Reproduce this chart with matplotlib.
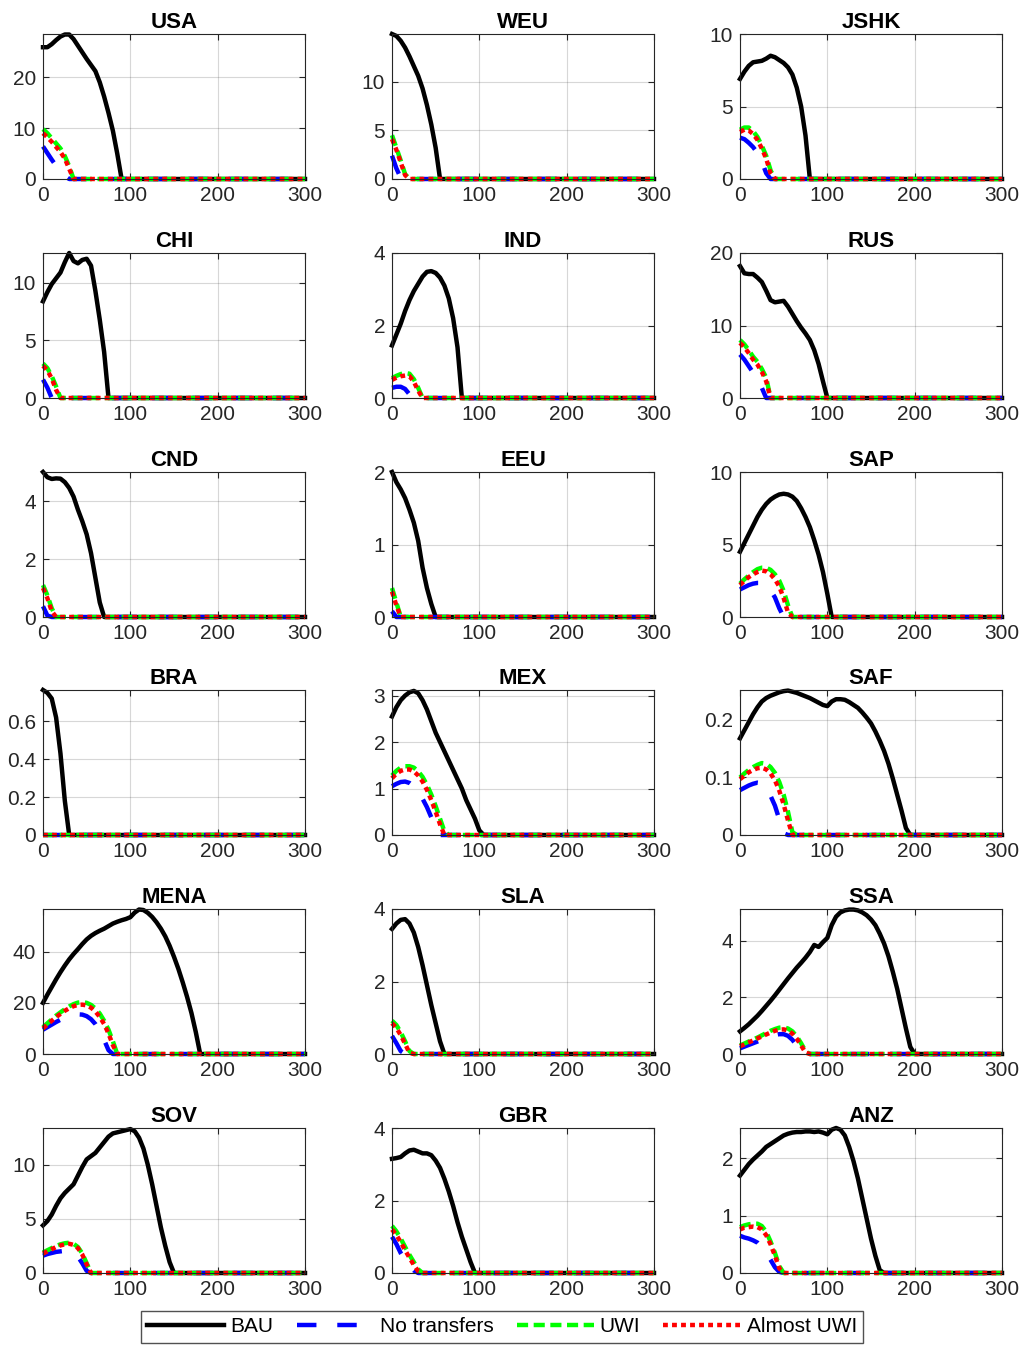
import numpy as np
import matplotlib
matplotlib.use("Agg")
import matplotlib.pyplot as plt
from matplotlib.lines import Line2D

plt.rcParams['font.family'] = ['Liberation Sans', 'DejaVu Sans']
plt.rcParams['lines.scale_dashes'] = False

# years on a 5-year grid; every series listed until it reaches zero, then zero to 300
t = np.arange(0, 301, 5)

regions = ["USA", "WEU", "JSHK", "CHI", "IND", "RUS", "CND", "EEU", "SAP",
           "BRA", "MEX", "SAF", "MENA", "SLA", "SSA", "SOV", "GBR", "ANZ"]

ytop = {"USA": 28.5, "WEU": 14.9, "JSHK": 10, "CHI": 12.6, "IND": 4, "RUS": 20,
        "CND": 5.0, "EEU": 2, "SAP": 10, "BRA": 0.765, "MEX": 3.12, "SAF": 0.252,
        "MENA": 56.7, "SLA": 4.0, "SSA": 5.12, "SOV": 13.4, "GBR": 4.0, "ANZ": 2.53}

yticks = {"USA": [0, 10, 20], "WEU": [0, 5, 10], "JSHK": [0, 5, 10],
          "CHI": [0, 5, 10], "IND": [0, 2, 4], "RUS": [0, 10, 20],
          "CND": [0, 2, 4], "EEU": [0, 1, 2], "SAP": [0, 5, 10],
          "BRA": [0, 0.2, 0.4, 0.6], "MEX": [0, 1, 2, 3], "SAF": [0, 0.1, 0.2],
          "MENA": [0, 20, 40], "SLA": [0, 2, 4], "SSA": [0, 2, 4],
          "SOV": [0, 5, 10], "GBR": [0, 2, 4], "ANZ": [0, 1, 2]}

bau = {
    "USA": [25.9, 25.9, 26.5, 27.3, 28.0, 28.4, 28.4, 27.5, 26.2, 24.9, 23.6, 22.4,
            21.2, 19.0, 16.2, 13.0, 9.5, 5.0, 0],
    "WEU": [14.9, 14.7, 14.2, 13.5, 12.6, 11.6, 10.6, 9.3, 7.6, 5.6, 3.2, 0],
    "JSHK": [6.9, 7.4, 7.8, 8.05, 8.1, 8.15, 8.3, 8.5, 8.4, 8.2, 8.0, 7.7, 7.2,
             6.3, 5.0, 3.0, 0],
    "CHI": [8.4, 9.2, 9.9, 10.4, 10.9, 11.8, 12.6, 11.9, 11.7, 12.0, 12.1, 11.5,
            9.3, 6.8, 4.0, 0],
    "IND": [1.45, 1.75, 2.05, 2.4, 2.7, 2.95, 3.15, 3.35, 3.48, 3.5, 3.45, 3.32,
            3.1, 2.75, 2.2, 1.4, 0],
    "RUS": [18.2, 17.2, 17.1, 17.1, 16.6, 16.0, 14.8, 13.5, 13.2, 13.3, 13.4, 12.6,
            11.6, 10.6, 9.7, 8.9, 8.0, 6.6, 4.7, 2.3, 0],
    "CND": [5.0, 4.82, 4.76, 4.78, 4.77, 4.65, 4.45, 4.15, 3.7, 3.3, 2.85, 2.2,
            1.35, 0.5, 0],
    "EEU": [2.0, 1.86, 1.76, 1.64, 1.48, 1.3, 1.05, 0.68, 0.4, 0.18, 0],
    "SAP": [4.5, 5.1, 5.7, 6.3, 6.9, 7.4, 7.8, 8.1, 8.3, 8.45, 8.5, 8.45, 8.3,
            8.0, 7.5, 6.9, 6.2, 5.3, 4.3, 3.1, 1.6, 0],
    "BRA": [0.765, 0.75, 0.72, 0.62, 0.43, 0.18, 0],
    "MEX": [2.55, 2.75, 2.9, 3.0, 3.07, 3.1, 3.05, 2.9, 2.7, 2.45, 2.2, 2.0, 1.8,
            1.6, 1.4, 1.2, 1.0, 0.75, 0.55, 0.35, 0.1, 0],
    "SAF": [0.168, 0.182, 0.196, 0.21, 0.222, 0.232, 0.238, 0.242, 0.245, 0.248,
            0.25, 0.251, 0.249, 0.247, 0.244, 0.241, 0.238, 0.234, 0.23, 0.226,
            0.224, 0.232, 0.236, 0.236, 0.235, 0.231, 0.226, 0.221, 0.213, 0.204,
            0.194, 0.18, 0.164, 0.146, 0.124, 0.098, 0.07, 0.042, 0.012, 0],
    "MENA": [20, 23.2, 26.2, 29.2, 32, 34.6, 37, 39.1, 41, 43, 44.8, 46.2, 47.3,
             48.2, 49, 50, 51, 51.7, 52.3, 52.8, 53.5, 55.3, 56.5, 56.3, 55.2,
             53.6, 51.5, 49, 46, 42.3, 38, 33.3, 28, 22.3, 16, 8.5, 0],
    "SLA": [3.45, 3.6, 3.7, 3.72, 3.6, 3.35, 2.95, 2.45, 1.9, 1.35, 0.85, 0.35, 0],
    "SSA": [0.8, 0.92, 1.05, 1.2, 1.35, 1.52, 1.7, 1.88, 2.07, 2.27, 2.47, 2.67,
            2.86, 3.05, 3.22, 3.4, 3.6, 3.85, 3.78, 3.95, 4.1, 4.55, 4.85, 5.0,
            5.07, 5.1, 5.1, 5.07, 5.0, 4.9, 4.75, 4.55, 4.25, 3.9, 3.45, 2.9, 2.3,
            1.6, 0.9, 0.25, 0],
    "SOV": [4.4, 4.8, 5.4, 6.2, 6.9, 7.4, 7.8, 8.2, 9.0, 9.8, 10.5, 10.8, 11.1,
            11.6, 12.1, 12.6, 12.9, 13.0, 13.1, 13.2, 13.3, 13.1, 12.5, 11.5, 10.0,
            8.2, 6.2, 4.2, 2.5, 1.0, 0],
    "GBR": [3.15, 3.17, 3.2, 3.3, 3.38, 3.4, 3.35, 3.3, 3.3, 3.25, 3.1, 2.9, 2.6,
            2.25, 1.85, 1.4, 1.0, 0.65, 0.3, 0],
    "ANZ": [1.7, 1.8, 1.9, 1.98, 2.05, 2.12, 2.2, 2.25, 2.3, 2.35, 2.4, 2.43, 2.45,
            2.46, 2.46, 2.47, 2.47, 2.46, 2.47, 2.45, 2.42, 2.5, 2.53, 2.5, 2.4,
            2.2, 1.95, 1.65, 1.3, 0.95, 0.6, 0.3, 0.05, 0],
}

no_transfers = {
    "USA": [6.4, 5.1, 3.8, 2.6, 1.5, 0.6, 0],
    "WEU": [2.4, 1.1, 0.1, 0],
    "JSHK": [2.85, 2.75, 2.5, 2.2, 1.8, 1.2, 0.4, 0],
    "CHI": [1.6, 0.9, 0],
    "IND": [0.28, 0.31, 0.31, 0.25, 0.1, 0],
    "RUS": [6.0, 5.3, 4.4, 3.5, 2.5, 1.4, 0],
    "CND": [0.37, 0.05, 0],
    "EEU": [0.08, 0],
    "SAP": [1.9, 2.05, 2.2, 2.3, 2.35, 2.35, 2.2, 1.85, 1.35, 0.6, 0],
    "BRA": [0],
    "MEX": [1.05, 1.1, 1.14, 1.15, 1.12, 1.05, 0.93, 0.78, 0.6, 0.38, 0.12, 0],
    "SAF": [0.078, 0.082, 0.086, 0.089, 0.091, 0.09, 0.083, 0.068, 0.051, 0.027,
            0.003, 0],
    "MENA": [9.5, 10.5, 11.5, 12.5, 13.4, 14.2, 14.8, 15.3, 15.5, 15.4, 14.8, 13.6,
             11.7, 9.0, 5.5, 1.5, 0],
    "SLA": [0.5, 0.3, 0.08, 0],
    "SSA": [0.2, 0.26, 0.32, 0.38, 0.44, 0.5, 0.56, 0.62, 0.67, 0.7, 0.7, 0.64,
            0.5, 0.3, 0.08, 0],
    "SOV": [1.6, 1.75, 1.85, 1.95, 2.0, 2.05, 2.0, 1.85, 1.5, 0.9, 0.2, 0],
    "GBR": [1.0, 0.8, 0.55, 0.35, 0.2, 0.07, 0],
    "ANZ": [0.65, 0.62, 0.6, 0.57, 0.53, 0.45, 0.35, 0.23, 0.1, 0.02, 0],
}

uwi = {
    "USA": [9.8, 9.0, 8.0, 7.0, 6.0, 4.5, 2.5, 0],
    "WEU": [4.5, 3.2, 1.9, 0.5, 0],
    "JSHK": [3.4, 3.55, 3.55, 3.3, 2.9, 2.3, 1.6, 0.6, 0],
    "CHI": [3.0, 2.6, 1.9, 1.0, 0],
    "IND": [0.55, 0.61, 0.66, 0.69, 0.67, 0.52, 0.28, 0],
    "RUS": [8.0, 7.4, 6.6, 5.7, 5.0, 4.0, 2.8, 0],
    "CND": [1.1, 0.75, 0.3, 0],
    "EEU": [0.4, 0.2, 0],
    "SAP": [2.3, 2.6, 2.85, 3.1, 3.3, 3.4, 3.4, 3.25, 2.95, 2.5, 1.8, 0.8, 0],
    "BRA": [0],
    "MEX": [1.28, 1.38, 1.45, 1.48, 1.48, 1.45, 1.37, 1.25, 1.08, 0.87, 0.62, 0.35,
            0.08, 0],
    "SAF": [0.1, 0.107, 0.113, 0.118, 0.122, 0.125, 0.124, 0.118, 0.108, 0.092,
            0.07, 0.04, 0.005, 0],
    "MENA": [10.5, 12, 13.5, 15, 16.3, 17.5, 18.6, 19.5, 20.1, 20.3, 20, 19.2, 17.8,
             15.8, 13, 9.5, 5, 0],
    "SLA": [0.92, 0.8, 0.6, 0.35, 0.08, 0],
    "SSA": [0.3, 0.37, 0.44, 0.51, 0.58, 0.66, 0.74, 0.82, 0.88, 0.93, 0.94, 0.9,
            0.8, 0.62, 0.38, 0.1, 0],
    "SOV": [1.9, 2.1, 2.3, 2.5, 2.65, 2.75, 2.8, 2.7, 2.4, 1.8, 0.9, 0],
    "GBR": [1.3, 1.15, 0.95, 0.72, 0.5, 0.3, 0.1, 0],
    "ANZ": [0.8, 0.83, 0.85, 0.86, 0.86, 0.82, 0.72, 0.55, 0.35, 0.12, 0],
}

almost_uwi = {
    "USA": [9.0, 8.2, 7.3, 6.3, 5.3, 4.0, 2.0, 0],
    "WEU": [4.1, 3.0, 1.7, 0.4, 0],
    "JSHK": [3.25, 3.4, 3.35, 3.1, 2.7, 2.1, 1.4, 0.4, 0],
    "CHI": [2.8, 2.4, 1.7, 0.7, 0],
    "IND": [0.5, 0.56, 0.6, 0.62, 0.6, 0.45, 0.2, 0],
    "RUS": [7.6, 7.0, 6.2, 5.3, 4.6, 3.6, 2.3, 0],
    "CND": [1.0, 0.65, 0.2, 0],
    "EEU": [0.35, 0.16, 0],
    "SAP": [2.2, 2.5, 2.75, 2.95, 3.1, 3.2, 3.15, 2.95, 2.6, 2.1, 1.3, 0.3, 0],
    "BRA": [0],
    "MEX": [1.22, 1.32, 1.38, 1.41, 1.41, 1.37, 1.28, 1.15, 0.97, 0.75, 0.5, 0.23, 0],
    "SAF": [0.097, 0.103, 0.109, 0.113, 0.116, 0.117, 0.114, 0.107, 0.095, 0.077,
            0.053, 0.025, 0],
    "MENA": [10, 11.5, 13, 14.4, 15.7, 16.9, 17.9, 18.7, 19.2, 19.3, 19, 18.1, 16.6,
             14.5, 11.7, 8, 3.5, 0],
    "SLA": [0.85, 0.72, 0.52, 0.28, 0.03, 0],
    "SSA": [0.27, 0.34, 0.41, 0.48, 0.55, 0.62, 0.69, 0.76, 0.82, 0.86, 0.87, 0.83,
            0.72, 0.54, 0.3, 0.05, 0],
    "SOV": [1.8, 2.0, 2.2, 2.4, 2.55, 2.65, 2.7, 2.6, 2.3, 1.7, 0.8, 0],
    "GBR": [1.2, 1.05, 0.85, 0.63, 0.42, 0.22, 0.05, 0],
    "ANZ": [0.76, 0.79, 0.8, 0.81, 0.8, 0.76, 0.66, 0.5, 0.3, 0.08, 0],
}

labels = ["BAU", "No transfers", "UWI", "Almost UWI"]
colors = ["black", "#0000ff", "#00ff00", "#ff0000"]
styles = ["-", (0, (14, 15)), (0, (8, 4)), (0, (3.5, 3))]
series = [bau, no_transfers, uwi, almost_uwi]


def full(vals):
    vals = np.asarray(vals, dtype=float)
    return np.concatenate([vals, np.zeros(len(t) - len(vals))])


W, H = 1024, 1345
fig = plt.figure(figsize=(W / 100, H / 100), dpi=100)

col_left = [43, 392, 740]
row_top = [34, 253, 472, 690, 909, 1128]
aw, ah = 262, 145
dark = "#262626"

for i, reg in enumerate(regions):
    r, c = divmod(i, 3)
    ax = fig.add_axes([col_left[c] / W, 1 - (row_top[r] + ah) / H, aw / W, ah / H])
    for data, col, ls in zip(series, colors, styles):
        ax.plot(t, full(data[reg]), color=col, linestyle=ls, lw=3.2, clip_on=False)
    ax.set_xlim(0, 300)
    ax.set_ylim(0, ytop[reg])
    ax.set_xticks([0, 100, 200, 300])
    ax.set_yticks(yticks[reg])
    ax.set_yticklabels([f"{v:g}" for v in yticks[reg]])
    ax.grid(True, color=dark, alpha=0.18, lw=0.8)
    ax.set_axisbelow(True)
    ax.tick_params(direction="in", length=4, width=0.8, top=True, right=True,
                   labelsize=15, colors=dark, pad=5)
    for s in ax.spines.values():
        s.set_color(dark)
        s.set_linewidth(0.8)
    ax.set_title(reg, fontsize=16, fontweight="bold", pad=4)

handles = [Line2D([0], [0], color=col, linestyle=ls, lw=3.2)
           for col, ls in zip(colors, styles)]
fig.legend(handles, labels, loc="upper left", bbox_to_anchor=(141 / W, 1 - 1311 / H),
           ncol=4, fontsize=15, frameon=True, fancybox=False, edgecolor=dark,
           handlelength=3.7, handletextpad=0.3, columnspacing=1.1, borderpad=0.3,
           borderaxespad=0)

fig.savefig("out.png", dpi=100)
